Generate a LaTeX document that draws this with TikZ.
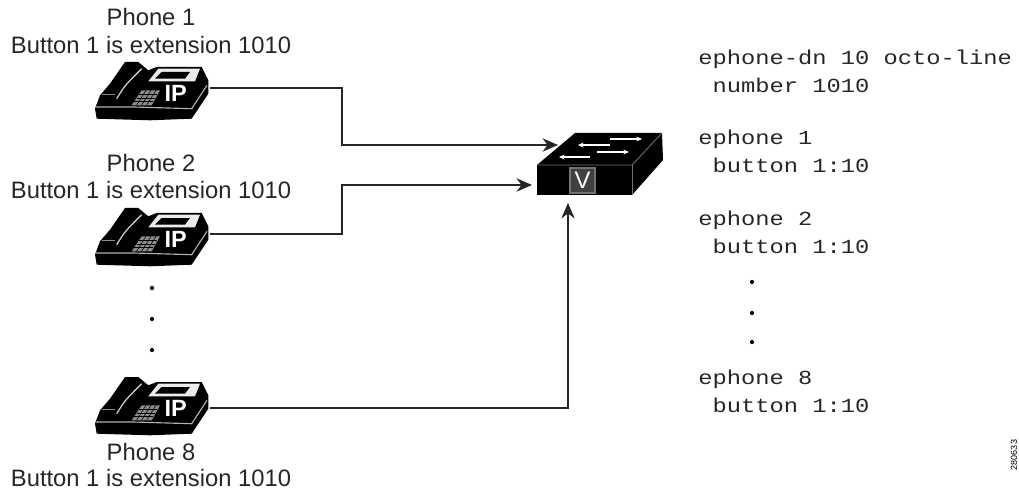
\documentclass[tikz,border=0pt]{standalone}
\usepackage{fontspec}
\setmainfont{Liberation Sans}
\newfontfamily\codefont[FakeStretch=1.19]{Liberation Mono}
\usetikzlibrary{arrows.meta, calc, positioning}

\tikzset{
    ipphone/.pic={
        \fill[black] (-57,19.7) -- (-52,6.3) -- (-42,-5.3) -- (-27,-27) -- (-13.7,-27) -- (-3.7,-18.7) -- (4.7,-22) -- (49.7,-22)
            -- (56.3,-8.7) -- (56.3,4.7) -- (39.7,29.7) -- (-2,31.3) -- (-55.3,29.7) -- cycle;
        \draw[black!30, line width=0.8pt] (-56,18) -- (-18.7,18) -- (39.7,19.7) -- (55,-3.7);
        \draw[black!20, line width=0.9pt] (-35.3,9.7) .. controls (-27,-3.7) .. (-10.3,-20.3);
        \draw[black!45, line width=0.8pt] (-50.3,5.7) -- (-37,5.7);
        \fill[black!8] (-3.7,-7.7) -- (6.3,-20.3) -- (48,-20.3) -- (43,-7.7) -- cycle;
        \fill[black] (3,-10.3) -- (9.7,-17) -- (38,-17) -- (33,-10.3) -- cycle;
        \fill[black!45] (-20.3,16.3) -- (-10.3,1.3) -- (8,1.3) -- (-0.3,16.3) -- cycle;
        \foreach \k in {5.5,9,12.5} {
            \draw[black, line width=0.4pt] ($(-20.3,16.3)!{(16.3-\k)/15}!(-10.3,1.3)$) -- ++(18.5,0);
        }
        \foreach \k in {-15.5,-10.5,-5.5} {
            \draw[black, line width=0.4pt] (\k,16.3) -- ++(9.5,-15);
        }
        \node[text=white, font=\fontsize{16.7}{17}\selectfont\bfseries, inner sep=0pt] (-ip) at (23.7,4.3) {IP};
    }
}

\begin{document}
\begin{tikzpicture}[x=0.025cm, y=-0.025cm,
    phonebox/.style={minimum width=2.9cm, minimum height=1.5cm, inner sep=0pt, outer sep=0pt},
    conn/.style={-{Stealth[length=11pt, width=9.5pt]}, line width=1pt, black!85},
    label/.style={font=\fontsize{16.9}{20}\selectfont, inner sep=0pt, text=black!85},
    code/.style={font=\codefont\fontsize{14.2}{19.9}\selectfont, inner sep=0pt, align=left, text=black!85},
    dot/.style={circle, fill=black, minimum size=3pt, inner sep=0pt}]
    \useasboundingbox (0,0) rectangle (1019,492);

    \node[phonebox] (phone1) at (152,89) {};
    \node[phonebox] (phone2) at (152,235) {};
    \node[phonebox] (phone8) at (152,404) {};
    \pic (p1) at (phone1) {ipphone};
    \pic (p2) at (phone2) {ipphone};
    \pic (p8) at (phone8) {ipphone};

    \node[label] (name1) at (151,17) {Phone 1};
    \node[label] (ext1) at (151,45) {Button 1 is extension 1010};
    \node[label] (name2) at (151,163) {Phone 2};
    \node[label] (ext2) at (151,190) {Button 1 is extension 1010};
    \node[label] (name8) at (151,452) {Phone 8};
    \node[label] (ext8) at (151,478) {Button 1 is extension 1010};

    \node[dot] (ldot1) at (152,288) {};
    \node[dot] (ldot2) at (152,319) {};
    \node[dot] (ldot3) at (152,350) {};

    % switch
    \node[minimum width=3.15cm, minimum height=1.55cm, inner sep=0pt, outer sep=0pt] (switch) at (600,164) {};
    \fill[black] (537,165) -- (575,133) -- (662,133) -- (663,160) -- (632,195) -- (537,195) -- cycle;
    \draw[black!55, line width=0.6pt] (537,165) -- (632,165) -- (662,133);
    \draw[black!55, line width=0.6pt] (632,165) -- (632,195);
    \node[draw=black!55, fill=black!75, line width=1pt, minimum width=0.625cm, minimum height=0.625cm, inner sep=0pt,
        text=white, font=\fontsize{17}{17}\selectfont] (vbox) at (582.5,180.5) {V};
    \draw[-{Stealth[length=4pt, width=3.5pt]}, white, line width=0.8pt] (610,139) -- (642,139);
    \draw[-{Stealth[length=4pt, width=3.5pt]}, white, line width=0.8pt] (610,145) -- (578,145);
    \draw[-{Stealth[length=4pt, width=3.5pt]}, white, line width=0.8pt] (597,152) -- (629,152);
    \draw[-{Stealth[length=4pt, width=3.5pt]}, white, line width=0.8pt] (590,157) -- (559,157);

    \draw[conn] ($(phone1.east) + (0,-1)$) -- ++(132,0) |- ($(switch.west) + (21,-19)$);
    \draw[conn] ($(phone2.east) + (0,-1)$) -- ++(132,0) |- ($(switch.west) + (-5,21)$);
    \draw[conn] ($(phone8.east) + (0,4)$) -| ($(switch.south) + (-32,8)$);

    \node[code, anchor=north west] (dn) at (698,50) {ephone-dn 10 octo-line\\\phantom{e}number 1010};
    \node[code, anchor=north west] (eph1) at (698,130) {ephone 1\\\phantom{e}button 1:10};
    \node[code, anchor=north west] (eph2) at (698,211) {ephone 2\\\phantom{e}button 1:10};
    \node[code, anchor=north west] (eph8) at (698,370) {ephone 8\\\phantom{e}button 1:10};

    \node[dot] (rdot1) at (752,282) {};
    \node[dot] (rdot2) at (752,313) {};
    \node[dot] (rdot3) at (752,342) {};

    \node[font=\fontsize{6.4}{7}\selectfont, rotate=90, inner sep=0pt] (figid) at (1014,455) {280633};
\end{tikzpicture}
\end{document}
